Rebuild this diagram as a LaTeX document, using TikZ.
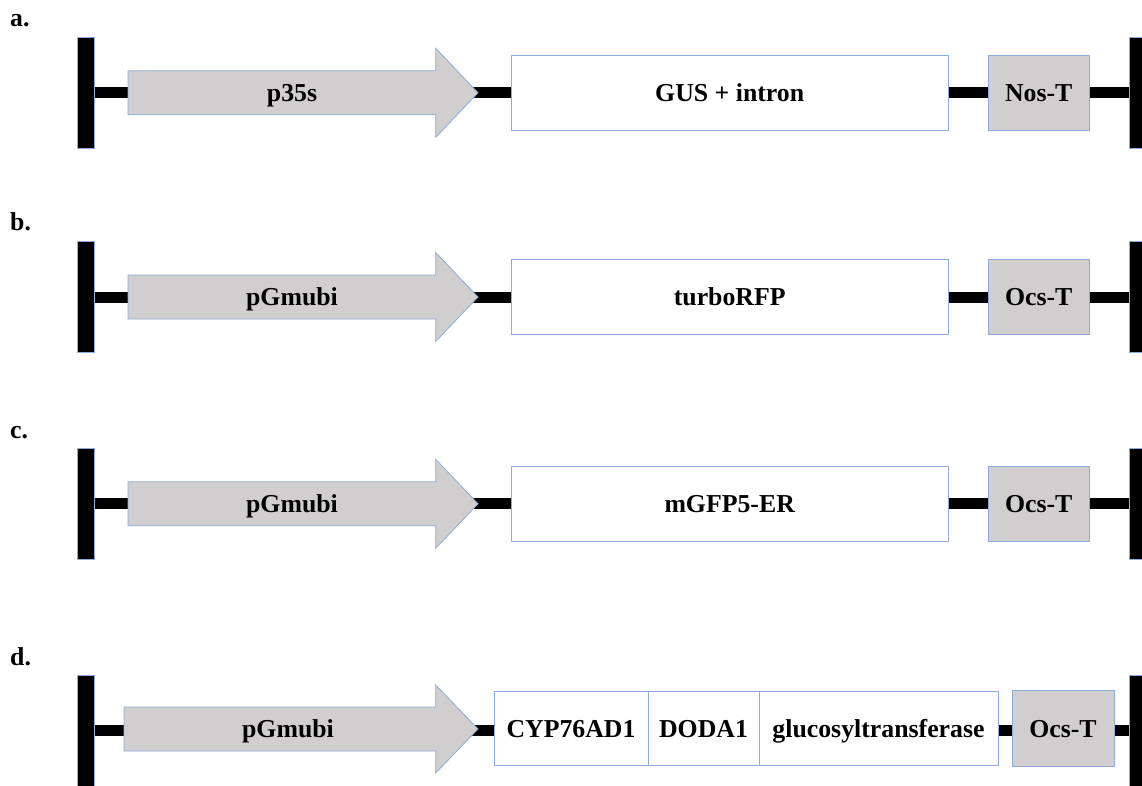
\documentclass[tikz,border=0pt]{standalone}
\usepackage{fontspec}
\setmainfont{Liberation Serif}
\definecolor{fillgray}{RGB}{208,206,206}
\definecolor{edgeblue}{RGB}{143,170,220}
\tikzset{
  endbar/.style={draw=edgeblue, line width=0.8pt, fill=black, minimum width=17pt, minimum height=111.6pt, inner sep=0pt},
  backbone/.style={line width=11pt, black},
  txt/.style={font=\bfseries\fontsize{25.8}{30}\selectfont, text height=17pt, text depth=0pt, inner sep=0pt},
  genebox/.style={txt, draw=edgeblue, line width=0.8pt, fill=white, minimum height=75pt},
  termbox/.style={genebox, fill=fillgray},
  promoter/.style={draw=edgeblue, line width=0.8pt, fill=fillgray, line join=miter},
  lbl/.style={font=\bfseries\fontsize{25.8}{30}\selectfont, anchor=base west, inner sep=0pt}
}
\begin{document}
\begin{tikzpicture}[x=1pt,y=-1pt]
\clip (0,0) rectangle (1142,786);
\useasboundingbox (0,0) rectangle (1142,786);
\fill[white] (0,0) rectangle (1142,786);

% ---------- a ----------
\node[lbl] (la) at (10,27) {a.};
\node[endbar] (lbA) at (86.2,92.8) {};
\node[endbar] (rbA) at (1137.8,92.8) {};
\draw[backbone] (lbA) -- (rbA);
\path[promoter] (128,70.8) -- (435.7,70.8) -- (435.7,48.3) -- (478,92.8) -- (435.7,137.3) -- (435.7,114.8) -- (128,114.8) -- cycle;
\node[txt] (pA) at (292,92.8) {p35s};
\node[genebox, minimum width=437.3pt] (gA) at (729.7,92.8) {GUS + intron};
\node[termbox, minimum width=100.7pt] (tA) at (1038.7,92.8) {Nos-T};

% ---------- b ----------
\node[lbl] (lb) at (10,231) {b.};
\node[endbar] (lbB) at (86.2,297) {};
\node[endbar] (rbB) at (1137.8,297) {};
\draw[backbone] (lbB) -- (rbB);
\path[promoter] (128,275) -- (435.7,275) -- (435.7,252.5) -- (478,297) -- (435.7,341.5) -- (435.7,319) -- (128,319) -- cycle;
\node[txt] (pB) at (292,297) {pGmubi};
\node[genebox, minimum width=437.3pt] (gB) at (729.7,297) {turboRFP};
\node[termbox, minimum width=100.7pt] (tB) at (1038.7,297) {Ocs-T};

% ---------- c ----------
\node[lbl] (lc) at (10,438) {c.};
\node[endbar] (lbC) at (86.2,503.8) {};
\node[endbar] (rbC) at (1137.8,503.8) {};
\draw[backbone] (lbC) -- (rbC);
\path[promoter] (128,481.8) -- (435.7,481.8) -- (435.7,459.3) -- (478,503.8) -- (435.7,548.3) -- (435.7,525.8) -- (128,525.8) -- cycle;
\node[txt] (pC) at (292,503.8) {pGmubi};
\node[genebox, minimum width=437.3pt] (gC) at (729.7,503.8) {mGFP5-ER};
\node[termbox, minimum width=100.7pt] (tC) at (1038.7,503.8) {Ocs-T};

% ---------- d ----------
\node[lbl] (ld) at (10,665) {d.};
\node[endbar, minimum height=112pt] (lbD) at (86.2,731) {};
\node[endbar, minimum height=112pt] (rbD) at (1137.8,731) {};
\draw[backbone] (lbD.east |- 0,730.5) -- (rbD.west |- 0,730.5);
\path[promoter] (124,707) -- (435.7,707) -- (435.7,685) -- (478,729) -- (435.7,773) -- (435.7,751) -- (124,751) -- cycle;
\node[txt] (pD) at (288,729) {pGmubi};
\node[genebox, minimum width=154pt, minimum height=73.5pt] (g1D) at (571,728.5) {CYP76AD1};
\node[genebox, minimum width=111pt, minimum height=73.5pt] (g2D) at (703.5,728.5) {DODA1};
\node[genebox, minimum width=239pt, minimum height=73.5pt] (g3D) at (878.5,728.5) {glucosyltransferase};
\node[termbox, minimum width=102pt, minimum height=76pt] (tD) at (1063,728.7) {Ocs-T};
\end{tikzpicture}
\end{document}
